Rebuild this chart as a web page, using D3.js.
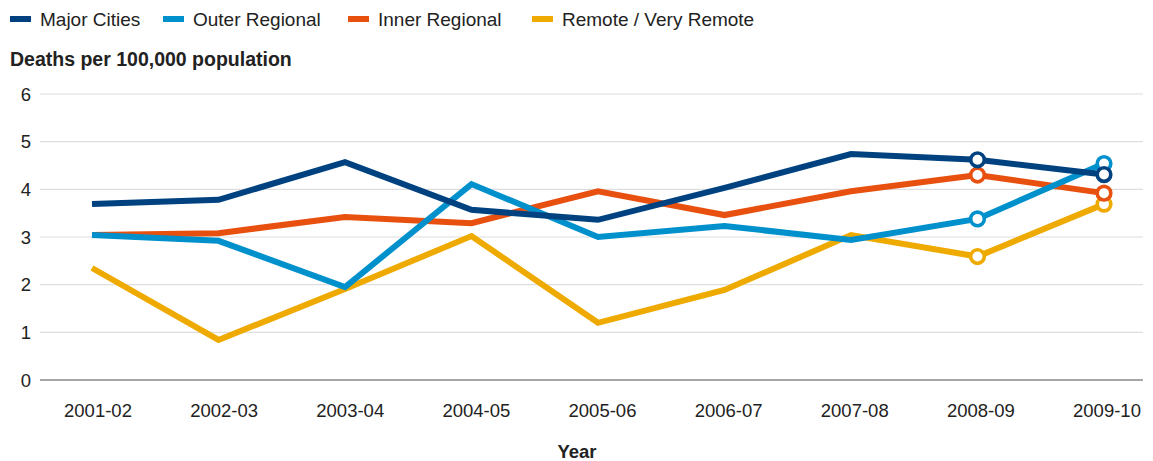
<!DOCTYPE html>
<html>
<head>
<meta charset="utf-8">
<script src="https://cdn.jsdelivr.net/npm/d3@7"></script>
<style>
  body { margin: 0; background: #fff; }
  text { font-family: "Liberation Sans", Arial, Helvetica, sans-serif; fill: #222; }
</style>
</head>
<body>
<div id="chart"></div>
<script>
// 데이터
const years = ["2001-02", "2002-03", "2003-04", "2004-05", "2005-06", "2006-07", "2007-08", "2008-09", "2009-10"];
const majorCities   = [3.69, 3.78, 4.57, 3.57, 3.36, 4.03, 4.74, 4.62, 4.31];
const outerRegional = [3.04, 2.92, 1.95, 4.11, 3.00, 3.23, 2.94, 3.38, 4.54];
const innerRegional = [3.04, 3.08, 3.42, 3.29, 3.96, 3.46, 3.96, 4.30, 3.92];
const remote        = [2.35, 0.84, 1.91, 3.02, 1.20, 1.89, 3.04, 2.59, 3.69];
const yTicks = [0, 1, 2, 3, 4, 5, 6];
const markedYears = ["2008-09", "2009-10"];

const series = [
  { name: "Major Cities", values: majorCities, color: "#00427f" },
  { name: "Outer Regional", values: outerRegional, color: "#0090cc" },
  { name: "Inner Regional", values: innerRegional, color: "#e8500f" },
  { name: "Remote / Very Remote", values: remote, color: "#efaa00" }
];

const WIDTH = 1153, HEIGHT = 461;

const svg = d3.select("#chart").append("svg")
  .attr("width", WIDTH).attr("height", HEIGHT);

const x = d3.scalePoint().domain(years).range([92, 1104]);
// 축 라벨은 점 위치보다 살짝 오른쪽
const xLabel = d3.scalePoint().domain(years).range([98, 1107]);
const y = d3.scaleLinear().domain([0, 6]).range([380, 94]);

// 그리드
svg.append("g").selectAll("line")
  .data(yTicks)
  .join("line")
  .attr("x1", 40).attr("x2", 1143)
  .attr("y1", d => y(d)).attr("y2", d => y(d))
  .attr("stroke", d => d === 0 ? "#8a8a8a" : "#dedede")
  .attr("stroke-width", d => d === 0 ? 1.5 : 1.2);

// y축 라벨
svg.append("g").selectAll("text")
  .data(yTicks)
  .join("text")
  .attr("x", 31).attr("y", d => y(d) + 6.5)
  .attr("text-anchor", "end")
  .attr("font-size", 18.5)
  .text(d => d);

svg.append("text")
  .attr("x", 10).attr("y", 66)
  .attr("font-size", 19.5).attr("font-weight", "bold")
  .text("Deaths per 100,000 population");

// x축 라벨
svg.append("g").selectAll("text")
  .data(years)
  .join("text")
  .attr("x", d => xLabel(d)).attr("y", 417)
  .attr("text-anchor", "middle")
  .attr("font-size", 18.5)
  .text(d => d);

svg.append("text")
  .attr("x", 577).attr("y", 458)
  .attr("text-anchor", "middle")
  .attr("font-size", 18.5).attr("font-weight", "bold")
  .text("Year");

// 선
const line = d3.line()
  .x((d, i) => x(years[i]))
  .y(d => y(d));

const drawOrder = series.slice().reverse();

svg.append("g").selectAll("path")
  .data(drawOrder)
  .join("path")
  .attr("d", d => line(d.values))
  .attr("fill", "none")
  .attr("stroke", d => d.color)
  .attr("stroke-width", 6)
  .attr("stroke-linejoin", "miter");

// 마커 (마지막 두 해)
drawOrder.forEach(s => {
  svg.append("g").selectAll("circle")
    .data(markedYears)
    .join("circle")
    .attr("cx", d => x(d))
    .attr("cy", d => y(s.values[years.indexOf(d)]))
    .attr("r", 6.8)
    .attr("fill", "#fff")
    .attr("stroke", s.color)
    .attr("stroke-width", 3.6);
});

// 범례
const legendX = [10, 163, 348, 532];
const legend = svg.append("g").selectAll("g")
  .data(series)
  .join("g")
  .attr("transform", (d, i) => `translate(${legendX[i]}, 0)`);

legend.append("rect")
  .attr("x", 0).attr("y", 16)
  .attr("width", 21).attr("height", 6)
  .attr("fill", d => d.color);

legend.append("text")
  .attr("x", 30).attr("y", 25.5)
  .attr("font-size", 19)
  .text(d => d.name);
</script>
</body>
</html>
